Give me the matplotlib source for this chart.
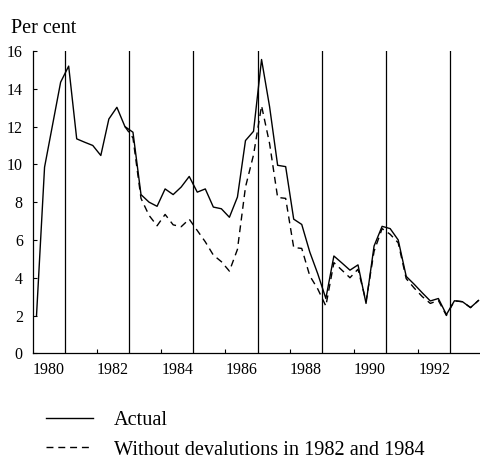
import matplotlib
matplotlib.use("Agg")
import matplotlib.pyplot as plt
import numpy as np

# ---- data (quarterly, plotted at quarter mid-points) ----
start_year = 1980
actual = [2.0, 9.85, 12.1, 14.35,
          15.2, 11.35, 11.17, 11.0,
          10.47, 12.4, 13.02, 12.0,
          11.7, 8.4, 8.0, 7.78,
          8.7, 8.4, 8.8, 9.36,
          8.53, 8.7, 7.74, 7.65,
          7.2, 8.27, 11.26, 11.75,
          15.55, 13.05, 9.95, 9.88,
          7.1, 6.82, 5.36, 4.2,
          2.9, 5.15, 4.78, 4.4,
          4.68, 2.64, 5.68, 6.72,
          6.6, 6.0, 4.07, 3.65,
          3.2, 2.77, 2.9, 2.05,
          2.78, 2.73, 2.42, 2.8]
# counterfactual starts at 1982 Q4 (index 11)
without_start_index = 11
without = [12.0,
           11.4, 8.2, 7.3, 6.75,
           7.35, 6.8, 6.7, 7.1,
           6.5, 5.9, 5.2, 4.85,
           4.35, 5.5, 8.8, 10.5,
           13.1, 11.1, 8.25, 8.2,
           5.6, 5.55, 4.1, 3.4,
           2.5, 4.8, 4.4, 4.0,
           4.45, 2.75, 5.4, 6.6,
           6.3, 5.85, 3.95, 3.45,
           3.0, 2.64, 2.8, 2.0,
           2.78, 2.73, 2.42, 2.8]
vlines = [1981, 1983, 1985, 1987, 1989, 1991, 1993]
year_labels = ["1980", "1982", "1984", "1986", "1988", "1990", "1992"]
yticks = [0, 2, 4, 6, 8, 10, 12, 14, 16]
series_labels = ["Actual", "Without devalutions in 1982 and 1984"]

plt.rcParams['font.family'] = ['Liberation Serif', 'DejaVu Serif']

t_act = start_year + 0.125 + 0.25 * np.arange(len(actual))
t_wo = start_year + 0.125 + 0.25 * (without_start_index + np.arange(len(without)))

fig = plt.figure(figsize=(4.8, 4.62), dpi=100)
ax = fig.add_axes([32.5 / 480, 1 - 353.3 / 462, 1 - 32.5 / 480, (353.3 - 51) / 462])

for v in vlines:
    ax.axvline(v, color='black', lw=0.9, zorder=1)

l1, = ax.plot(t_act, actual, color='black', lw=1.0, zorder=3, label=series_labels[0])
l2, = ax.plot(t_wo, without, color='black', lw=1.0, ls=(0, (5, 3.5)), zorder=2,
              label=series_labels[1])

ax.set_xlim(1980, 1993.92)
ax.set_ylim(0, 16)
ax.set_yticks(yticks)
ax.set_yticklabels([str(v) for v in yticks])

major = [int(s) for s in year_labels[1:]]
ax.set_xticks(major)
ax.set_xticklabels([])
ax.set_xticks([int(s) + 0.5 for s in year_labels], minor=True)
ax.set_xticklabels(year_labels, minor=True)
ax.tick_params(axis='x', which='major', direction='in', length=3, width=0.8)
ax.tick_params(axis='x', which='minor', length=0, pad=6, labelsize=11.5)
ax.tick_params(axis='y', direction='in', length=3, width=0.8, pad=7, labelsize=11.5)

for s in ['top', 'right']:
    ax.spines[s].set_visible(False)
for s in ['left', 'bottom']:
    ax.spines[s].set_linewidth(0.9)

fig.text(11 / 480, 1 - 33 / 462, "Per cent", fontsize=14.5, va='baseline', ha='left')

fig.legend(handles=[l1, l2], loc='upper left', bbox_to_anchor=(46 / 480, 1 - 411 / 462),
           frameon=False, fontsize=14.6, handlelength=2.3, handletextpad=1.05,
           labelspacing=0.5, borderpad=0, borderaxespad=0)

fig.savefig("out.png", dpi=100)
